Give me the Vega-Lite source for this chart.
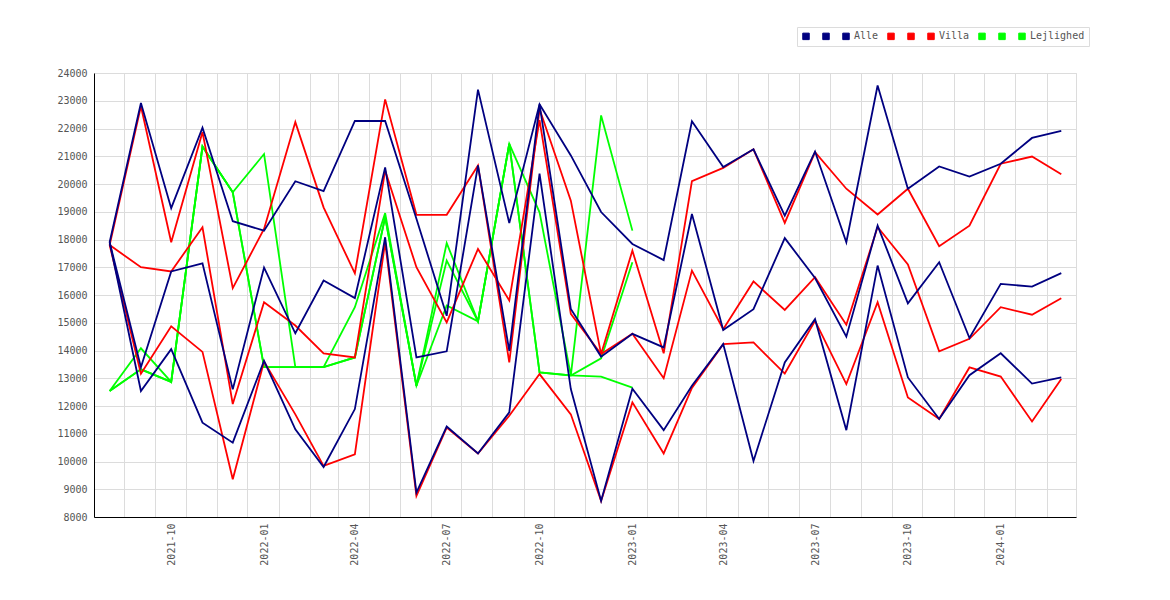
{
  "$schema": "https://vega.github.io/schema/vega-lite/v6.json",
  "autosize": "none",
  "width": 982,
  "height": 444,
  "padding": {"left": 94, "top": 73, "right": 94, "bottom": 83},
  "background": "white",
  "data": {
    "format": {"parse": {"month": "date:'%Y-%m'"}},
    "values": [
      {"month":"2021-08","series":"Alle","value":17900},{"month":"2021-09","series":"Alle","value":22920},{"month":"2021-10","series":"Alle","value":19130},{"month":"2021-11","series":"Alle","value":22030},
      {"month":"2021-12","series":"Alle","value":18660},{"month":"2022-01","series":"Alle","value":18320},{"month":"2022-02","series":"Alle","value":20100},{"month":"2022-03","series":"Alle","value":19740},
      {"month":"2022-04","series":"Alle","value":22270},{"month":"2022-05","series":"Alle","value":22270},{"month":"2022-06","series":"Alle","value":18750},{"month":"2022-07","series":"Alle","value":15250},
      {"month":"2022-08","series":"Alle","value":23400},{"month":"2022-09","series":"Alle","value":18590},{"month":"2022-10","series":"Alle","value":22870},{"month":"2022-11","series":"Alle","value":21030},
      {"month":"2022-12","series":"Alle","value":18990},{"month":"2023-01","series":"Alle","value":17840},{"month":"2023-02","series":"Alle","value":17260},{"month":"2023-03","series":"Alle","value":22260},
      {"month":"2023-04","series":"Alle","value":20610},{"month":"2023-05","series":"Alle","value":21250},{"month":"2023-06","series":"Alle","value":18860},{"month":"2023-07","series":"Alle","value":21170},
      {"month":"2023-08","series":"Alle","value":17900},{"month":"2023-09","series":"Alle","value":23550},{"month":"2023-10","series":"Alle","value":19830},{"month":"2023-11","series":"Alle","value":20630},
      {"month":"2023-12","series":"Alle","value":20270},{"month":"2024-01","series":"Alle","value":20730},{"month":"2024-02","series":"Alle","value":21660},{"month":"2024-03","series":"Alle","value":21910},

      {"month":"2021-08","series":"Alle mid","value":17900},{"month":"2021-09","series":"Alle mid","value":13400},{"month":"2021-10","series":"Alle mid","value":16850},{"month":"2021-11","series":"Alle mid","value":17140},
      {"month":"2021-12","series":"Alle mid","value":12600},{"month":"2022-01","series":"Alle mid","value":16990},{"month":"2022-02","series":"Alle mid","value":14620},{"month":"2022-03","series":"Alle mid","value":16520},
      {"month":"2022-04","series":"Alle mid","value":15890},{"month":"2022-05","series":"Alle mid","value":20600},{"month":"2022-06","series":"Alle mid","value":13750},{"month":"2022-07","series":"Alle mid","value":13970},
      {"month":"2022-08","series":"Alle mid","value":20670},{"month":"2022-09","series":"Alle mid","value":13990},{"month":"2022-10","series":"Alle mid","value":22870},{"month":"2022-11","series":"Alle mid","value":15500},
      {"month":"2022-12","series":"Alle mid","value":13780},{"month":"2023-01","series":"Alle mid","value":14600},{"month":"2023-02","series":"Alle mid","value":14110},{"month":"2023-03","series":"Alle mid","value":18920},
      {"month":"2023-04","series":"Alle mid","value":14740},{"month":"2023-05","series":"Alle mid","value":15490},{"month":"2023-06","series":"Alle mid","value":18050},{"month":"2023-07","series":"Alle mid","value":16610},
      {"month":"2023-08","series":"Alle mid","value":14500},{"month":"2023-09","series":"Alle mid","value":18500},{"month":"2023-10","series":"Alle mid","value":15700},{"month":"2023-11","series":"Alle mid","value":17180},
      {"month":"2023-12","series":"Alle mid","value":14450},{"month":"2024-01","series":"Alle mid","value":16400},{"month":"2024-02","series":"Alle mid","value":16300},{"month":"2024-03","series":"Alle mid","value":16790},

      {"month":"2021-08","series":"Alle lav","value":17900},{"month":"2021-09","series":"Alle lav","value":12540},{"month":"2021-10","series":"Alle lav","value":14050},{"month":"2021-11","series":"Alle lav","value":11400},
      {"month":"2021-12","series":"Alle lav","value":10680},{"month":"2022-01","series":"Alle lav","value":13630},{"month":"2022-02","series":"Alle lav","value":11160},{"month":"2022-03","series":"Alle lav","value":9800},
      {"month":"2022-04","series":"Alle lav","value":11890},{"month":"2022-05","series":"Alle lav","value":18080},{"month":"2022-06","series":"Alle lav","value":8880},{"month":"2022-07","series":"Alle lav","value":11260},
      {"month":"2022-08","series":"Alle lav","value":10290},{"month":"2022-09","series":"Alle lav","value":11770},{"month":"2022-10","series":"Alle lav","value":20370},{"month":"2022-11","series":"Alle lav","value":12610},
      {"month":"2022-12","series":"Alle lav","value":8580},{"month":"2023-01","series":"Alle lav","value":12620},{"month":"2023-02","series":"Alle lav","value":11130},{"month":"2023-03","series":"Alle lav","value":12730},
      {"month":"2023-04","series":"Alle lav","value":14230},{"month":"2023-05","series":"Alle lav","value":10020},{"month":"2023-06","series":"Alle lav","value":13570},{"month":"2023-07","series":"Alle lav","value":15130},
      {"month":"2023-08","series":"Alle lav","value":11130},{"month":"2023-09","series":"Alle lav","value":17060},{"month":"2023-10","series":"Alle lav","value":13030},{"month":"2023-11","series":"Alle lav","value":11530},
      {"month":"2023-12","series":"Alle lav","value":13110},{"month":"2024-01","series":"Alle lav","value":13900},{"month":"2024-02","series":"Alle lav","value":12810},{"month":"2024-03","series":"Alle lav","value":13030},

      {"month":"2021-08","series":"Villa","value":17800},{"month":"2021-09","series":"Villa","value":22800},{"month":"2021-10","series":"Villa","value":17900},{"month":"2021-11","series":"Villa","value":21870},
      {"month":"2021-12","series":"Villa","value":16250},{"month":"2022-01","series":"Villa","value":18380},{"month":"2022-02","series":"Villa","value":22230},{"month":"2022-03","series":"Villa","value":19160},
      {"month":"2022-04","series":"Villa","value":16780},{"month":"2022-05","series":"Villa","value":23050},{"month":"2022-06","series":"Villa","value":18890},{"month":"2022-07","series":"Villa","value":18890},
      {"month":"2022-08","series":"Villa","value":20670},{"month":"2022-09","series":"Villa","value":13570},{"month":"2022-10","series":"Villa","value":22700},{"month":"2022-11","series":"Villa","value":19400},
      {"month":"2022-12","series":"Villa","value":13870},{"month":"2023-01","series":"Villa","value":17600},{"month":"2023-02","series":"Villa","value":13900},{"month":"2023-03","series":"Villa","value":20100},
      {"month":"2023-04","series":"Villa","value":20580},{"month":"2023-05","series":"Villa","value":21250},{"month":"2023-06","series":"Villa","value":18600},{"month":"2023-07","series":"Villa","value":21150},
      {"month":"2023-08","series":"Villa","value":19830},{"month":"2023-09","series":"Villa","value":18900},{"month":"2023-10","series":"Villa","value":19830},{"month":"2023-11","series":"Villa","value":17760},
      {"month":"2023-12","series":"Villa","value":18500},{"month":"2024-01","series":"Villa","value":20730},{"month":"2024-02","series":"Villa","value":20990},{"month":"2024-03","series":"Villa","value":20350},

      {"month":"2021-08","series":"Villa mid","value":17800},{"month":"2021-09","series":"Villa mid","value":17000},{"month":"2021-10","series":"Villa mid","value":16850},{"month":"2021-11","series":"Villa mid","value":18440},
      {"month":"2021-12","series":"Villa mid","value":12070},{"month":"2022-01","series":"Villa mid","value":15740},{"month":"2022-02","series":"Villa mid","value":14900},{"month":"2022-03","series":"Villa mid","value":13900},
      {"month":"2022-04","series":"Villa mid","value":13750},{"month":"2022-05","series":"Villa mid","value":20490},{"month":"2022-06","series":"Villa mid","value":17000},{"month":"2022-07","series":"Villa mid","value":15010},
      {"month":"2022-08","series":"Villa mid","value":17660},{"month":"2022-09","series":"Villa mid","value":15800},{"month":"2022-10","series":"Villa mid","value":22300},{"month":"2022-11","series":"Villa mid","value":15320},
      {"month":"2022-12","series":"Villa mid","value":13870},{"month":"2023-01","series":"Villa mid","value":14600},{"month":"2023-02","series":"Villa mid","value":13000},{"month":"2023-03","series":"Villa mid","value":16880},
      {"month":"2023-04","series":"Villa mid","value":14770},{"month":"2023-05","series":"Villa mid","value":16490},{"month":"2023-06","series":"Villa mid","value":15460},{"month":"2023-07","series":"Villa mid","value":16640},
      {"month":"2023-08","series":"Villa mid","value":14930},{"month":"2023-09","series":"Villa mid","value":18450},{"month":"2023-10","series":"Villa mid","value":17100},{"month":"2023-11","series":"Villa mid","value":13970},
      {"month":"2023-12","series":"Villa mid","value":14420},{"month":"2024-01","series":"Villa mid","value":15560},{"month":"2024-02","series":"Villa mid","value":15290},{"month":"2024-03","series":"Villa mid","value":15880},

      {"month":"2021-08","series":"Villa lav","value":17800},{"month":"2021-09","series":"Villa lav","value":13160},{"month":"2021-10","series":"Villa lav","value":14870},{"month":"2021-11","series":"Villa lav","value":13950},
      {"month":"2021-12","series":"Villa lav","value":9360},{"month":"2022-01","series":"Villa lav","value":13600},{"month":"2022-02","series":"Villa lav","value":11700},{"month":"2022-03","series":"Villa lav","value":9840},
      {"month":"2022-04","series":"Villa lav","value":10260},{"month":"2022-05","series":"Villa lav","value":17900},{"month":"2022-06","series":"Villa lav","value":8760},{"month":"2022-07","series":"Villa lav","value":11220},
      {"month":"2022-08","series":"Villa lav","value":10290},{"month":"2022-09","series":"Villa lav","value":11650},{"month":"2022-10","series":"Villa lav","value":13150},{"month":"2022-11","series":"Villa lav","value":11700},
      {"month":"2022-12","series":"Villa lav","value":8580},{"month":"2023-01","series":"Villa lav","value":12130},{"month":"2023-02","series":"Villa lav","value":10290},{"month":"2023-03","series":"Villa lav","value":12650},
      {"month":"2023-04","series":"Villa lav","value":14230},{"month":"2023-05","series":"Villa lav","value":14290},{"month":"2023-06","series":"Villa lav","value":13170},{"month":"2023-07","series":"Villa lav","value":15070},
      {"month":"2023-08","series":"Villa lav","value":12790},{"month":"2023-09","series":"Villa lav","value":15740},{"month":"2023-10","series":"Villa lav","value":12310},{"month":"2023-11","series":"Villa lav","value":11530},
      {"month":"2023-12","series":"Villa lav","value":13390},{"month":"2024-01","series":"Villa lav","value":13060},{"month":"2024-02","series":"Villa lav","value":11440},{"month":"2024-03","series":"Villa lav","value":12970},

      {"month":"2021-08","series":"Lejlighed","value":12540},{"month":"2021-09","series":"Lejlighed","value":14080},{"month":"2021-10","series":"Lejlighed","value":12870},{"month":"2021-11","series":"Lejlighed","value":21350},
      {"month":"2021-12","series":"Lejlighed","value":19700},{"month":"2022-01","series":"Lejlighed","value":21080},{"month":"2022-02","series":"Lejlighed","value":13400},{"month":"2022-03","series":"Lejlighed","value":13400},
      {"month":"2022-04","series":"Lejlighed","value":15560},{"month":"2022-05","series":"Lejlighed","value":18950},{"month":"2022-06","series":"Lejlighed","value":12730},{"month":"2022-07","series":"Lejlighed","value":17870},
      {"month":"2022-08","series":"Lejlighed","value":15050},{"month":"2022-09","series":"Lejlighed","value":21450},{"month":"2022-10","series":"Lejlighed","value":18980},{"month":"2022-11","series":"Lejlighed","value":13100},
      {"month":"2022-12","series":"Lejlighed","value":22470},{"month":"2023-01","series":"Lejlighed","value":18320},

      {"month":"2021-08","series":"Lejlighed mid","value":12540},{"month":"2021-09","series":"Lejlighed mid","value":13320},{"month":"2021-10","series":"Lejlighed mid","value":12870},{"month":"2021-11","series":"Lejlighed mid","value":21350},
      {"month":"2021-12","series":"Lejlighed mid","value":19700},{"month":"2022-01","series":"Lejlighed mid","value":13400},{"month":"2022-02","series":"Lejlighed mid","value":13400},{"month":"2022-03","series":"Lejlighed mid","value":13400},
      {"month":"2022-04","series":"Lejlighed mid","value":13750},{"month":"2022-05","series":"Lejlighed mid","value":18800},{"month":"2022-06","series":"Lejlighed mid","value":12730},{"month":"2022-07","series":"Lejlighed mid","value":17240},
      {"month":"2022-08","series":"Lejlighed mid","value":15050},{"month":"2022-09","series":"Lejlighed mid","value":21450},{"month":"2022-10","series":"Lejlighed mid","value":13210},{"month":"2022-11","series":"Lejlighed mid","value":13100},
      {"month":"2022-12","series":"Lejlighed mid","value":13720},{"month":"2023-01","series":"Lejlighed mid","value":17180},

      {"month":"2021-08","series":"Lejlighed lav","value":12540},{"month":"2021-09","series":"Lejlighed lav","value":13320},{"month":"2021-10","series":"Lejlighed lav","value":12870},{"month":"2021-11","series":"Lejlighed lav","value":21350},
      {"month":"2021-12","series":"Lejlighed lav","value":19700},{"month":"2022-01","series":"Lejlighed lav","value":13400},{"month":"2022-02","series":"Lejlighed lav","value":13400},{"month":"2022-03","series":"Lejlighed lav","value":13400},
      {"month":"2022-04","series":"Lejlighed lav","value":13750},{"month":"2022-05","series":"Lejlighed lav","value":18800},{"month":"2022-06","series":"Lejlighed lav","value":12730},{"month":"2022-07","series":"Lejlighed lav","value":15620},
      {"month":"2022-08","series":"Lejlighed lav","value":15050},{"month":"2022-09","series":"Lejlighed lav","value":21450},{"month":"2022-10","series":"Lejlighed lav","value":13210},{"month":"2022-11","series":"Lejlighed lav","value":13100},
      {"month":"2022-12","series":"Lejlighed lav","value":13060},{"month":"2023-01","series":"Lejlighed lav","value":12660}
    ]
  },
  "encoding": {
    "x": {
      "field": "month",
      "type": "temporal",
      "title": null,
      "scale": {
        "domain": [
          {"year": 2021, "month": 7, "date": 16, "hours": 12},
          {"year": 2024, "month": 3, "date": 15, "hours": 14}
        ]
      },
      "axis": {
        "tickCount": {"interval": "month", "step": 1},
        "labelExpr": "month(datum.value) % 3 == 0 ? timeFormat(datum.value, '%Y-%m') : ''",
        "labelAngle": 270,
        "labelOverlap": false,
        "labelFlush": false,
        "labelPadding": 6,
        "tickOffset": 14.5,
        "labelOffset": -14.5,
        "ticks": false,
        "tickSize": 0
      }
    },
    "y": {
      "field": "value",
      "type": "quantitative",
      "title": null,
      "scale": {"domain": [8000, 24000], "nice": false, "zero": false},
      "axis": {
        "values": [8000, 9000, 10000, 11000, 12000, 13000, 14000, 15000, 16000, 17000, 18000, 19000, 20000, 21000, 22000, 23000, 24000],
        "format": "d",
        "ticks": false,
        "tickSize": 0,
        "labelPadding": 7
      }
    },
    "color": {
      "field": "series",
      "type": "nominal",
      "scale": {
        "domain": ["Alle lav", "Alle mid", "Alle", "Villa lav", "Villa mid", "Villa", "Lejlighed lav", "Lejlighed mid", "Lejlighed"],
        "range": ["#000080", "#000080", "#000080", "#ff0000", "#ff0000", "#ff0000", "#00ff00", "#00ff00", "#00ff00"]
      },
      "legend": {
        "title": null,
        "orient": "none",
        "legendX": 703,
        "legendY": -46,
        "direction": "horizontal",
        "symbolType": "square",
        "symbolSize": 42,
        "symbolStrokeWidth": 1,
        "labelOffset": 3,
        "columnPadding": 6,
        "padding": 4,
        "strokeColor": "#dcdcdc",
        "fillColor": "white",
        "labelFont": "DejaVu Sans Mono",
        "labelFontSize": 10,
        "labelColor": "#555555",
        "labelExpr": "indexof(datum.label, ' ') > 0 ? ' ' : datum.label",
        "encode": {
          "symbols": {
            "update": {
              "fill": {"scale": "color", "field": "value"},
              "fillOpacity": {"value": 1},
              "stroke": {"value": "#555555"}
            }
          }
        }
      }
    }
  },
  "layer": [
    {
      "transform": [{"filter": "indexof(datum.series, 'Lejlighed') == 0"}],
      "mark": {"type": "line", "strokeWidth": 1.8}
    },
    {
      "transform": [{"filter": "indexof(datum.series, 'Villa') == 0"}],
      "mark": {"type": "line", "strokeWidth": 1.8}
    },
    {
      "transform": [{"filter": "indexof(datum.series, 'Alle') == 0"}],
      "mark": {"type": "line", "strokeWidth": 1.8}
    }
  ],
  "config": {
    "view": {"stroke": "#dcdcdc", "strokeWidth": 1},
    "axis": {
      "labelFont": "DejaVu Sans Mono",
      "labelFontSize": 10,
      "labelColor": "#555555",
      "domainColor": "#000000",
      "domainWidth": 1,
      "gridColor": "#dcdcdc",
      "gridWidth": 1
    }
  }
}
